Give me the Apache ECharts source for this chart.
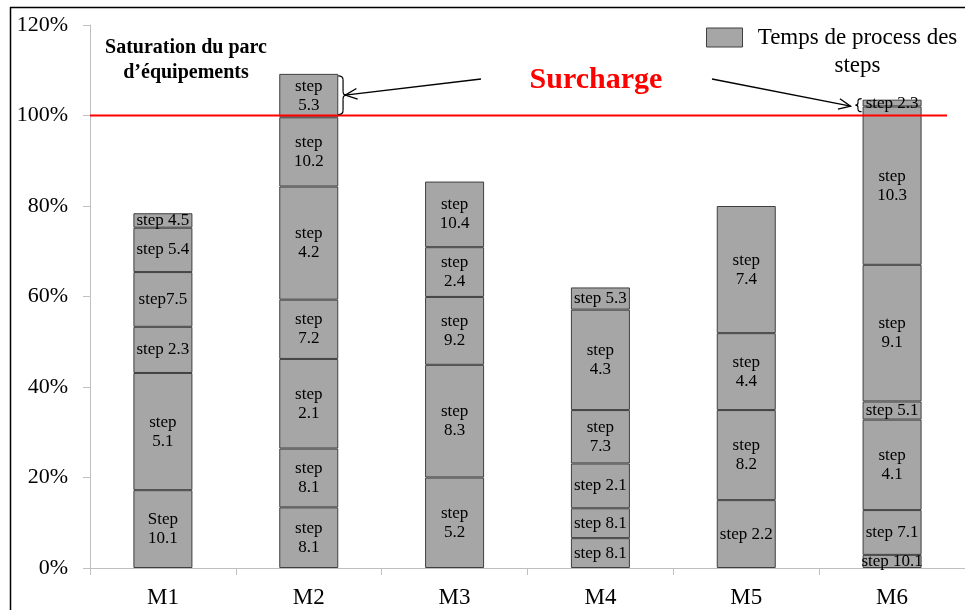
<!DOCTYPE html>
<html>
<head>
<meta charset="utf-8">
<script src="https://cdn.jsdelivr.net/npm/echarts@6/dist/echarts.min.js"></script>
<style>
html,body{margin:0;padding:0;background:#fff;}
#chart{width:965px;height:610px;}
</style>
</head>
<body>
<div id="chart"></div>
<script>
const categories = ['M1', 'M2', 'M3', 'M4', 'M5', 'M6'];
const yTicks = [0, 20, 40, 60, 80, 100, 120];
const legendName = 'Temps de process des steps';

// segment values (% of capacity), bottom to top
const valuesM1 = [17.2, 25.9, 10.2, 12.1, 9.8, 3.2];
const valuesM2 = [13.4, 13.0, 19.8, 13.1, 25.0, 15.3, 9.6];
const valuesM3 = [20.0, 24.9, 15.0, 11.0, 14.5];
const valuesM4 = [6.6, 6.6, 9.9, 11.8, 22.2, 4.9];
const valuesM5 = [15.0, 19.9, 17.0, 28.1];
const valuesM6 = [2.9, 9.9, 20.0, 4.0, 30.2, 35.0, 1.5];

// segment labels, bottom to top
const labelsM1 = ['Step\n10.1', 'step\n5.1', 'step 2.3', 'step7.5', 'step 5.4', 'step 4.5'];
const labelsM2 = ['step\n8.1', 'step\n8.1', 'step\n2.1', 'step\n7.2', 'step\n4.2', 'step\n10.2', 'step\n5.3'];
const labelsM3 = ['step\n5.2', 'step\n8.3', 'step\n9.2', 'step\n2.4', 'step\n10.4'];
const labelsM4 = ['step 8.1', 'step 8.1', 'step 2.1', 'step\n7.3', 'step\n4.3', 'step 5.3'];
const labelsM5 = ['step 2.2', 'step\n8.2', 'step\n4.4', 'step\n7.4'];
const labelsM6 = ['step 10.1', 'step 7.1', 'step\n4.1', 'step 5.1', 'step\n9.1', 'step\n10.3', 'step 2.3'];

const overloadLimit = 100;

const stackValues = [valuesM1, valuesM2, valuesM3, valuesM4, valuesM5, valuesM6];
const stackLabels = [labelsM1, labelsM2, labelsM3, labelsM4, labelsM5, labelsM6];
const layers = Math.max(...stackValues.map(v => v.length));

const FONT = 'Liberation Serif';
const chart = echarts.init(document.getElementById('chart'), null, {renderer: 'canvas'});

const series = [];
for (let k = 0; k < layers; k++) {
  series.push({
    name: legendName,
    type: 'bar',
    stack: 'total',
    barWidth: 59,
    data: categories.map((c, j) => (stackValues[j][k] !== undefined ? stackValues[j][k] : null)),
    itemStyle: {color: '#a6a6a6', borderColor: '#3f3f3f', borderWidth: 1},
    label: {
      show: true,
      position: 'inside',
      color: '#000',
      fontFamily: FONT,
      fontSize: 17,
      lineHeight: 19,
      formatter: p => (stackLabels[p.dataIndex][k] || '')
    },
    emphasis: {disabled: true},
    silent: true
  });
}

chart.setOption({
  animation: false,
  backgroundColor: '#fff',
  grid: {left: 90, right: -5, top: 25, bottom: 42},
  legend: {
    data: [legendName],
    left: 701,
    top: 21,
    icon: 'rect',
    itemWidth: 36,
    itemHeight: 19,
    itemGap: 5,
    selectedMode: false,
    itemStyle: {color: '#a6a6a6', borderColor: '#3f3f3f', borderWidth: 1},
    formatter: () => '{a|Temps de process des}\n{a|steps}',
    textStyle: {
      color: '#000',
      fontFamily: FONT,
      fontSize: 23,
      padding: [28, 0, 0, 0],
      rich: {a: {fontFamily: FONT, fontSize: 23, color: '#000', width: 220, align: 'center', lineHeight: 28}}
    }
  },
  xAxis: {
    type: 'category',
    data: categories,
    axisLine: {show: true, lineStyle: {color: '#bfbfbf', width: 1}},
    axisTick: {show: true, length: 7, lineStyle: {color: '#bfbfbf'}, interval: 0},
    axisLabel: {color: '#000', fontFamily: FONT, fontSize: 23, margin: 18}
  },
  yAxis: {
    type: 'value',
    min: yTicks[0],
    max: yTicks[yTicks.length - 1],
    interval: yTicks[1] - yTicks[0],
    axisLine: {show: true, lineStyle: {color: '#bfbfbf', width: 1}},
    axisTick: {show: true, length: 7, lineStyle: {color: '#bfbfbf'}},
    splitLine: {show: false},
    axisLabel: {color: '#000', fontFamily: FONT, fontSize: 22, margin: 22, formatter: '{value}%'}
  },
  series: series
});

// annotations positioned from the axes
const px = (cat, v) => chart.convertToPixel({xAxisIndex: 0, yAxisIndex: 0}, [cat, v]);
const yLimit = px('M1', overloadLimit)[1];
const m2Top = valuesM2.reduce((a, b) => a + b, 0);
const m6Top = valuesM6.reduce((a, b) => a + b, 0);
const m2 = px('M2', m2Top);
const m6 = px('M6', m6Top);
const half = 59 / 2;

function arrow(x1, y1, x2, y2) {
  const ang = Math.atan2(y2 - y1, x2 - x1);
  const L = 13, a = 0.42;
  const p1 = [x2 - L * Math.cos(ang - a), y2 - L * Math.sin(ang - a)];
  const p2 = [x2 - L * Math.cos(ang + a), y2 - L * Math.sin(ang + a)];
  return [
    {type: 'line', shape: {x1, y1, x2, y2}, style: {stroke: '#000', lineWidth: 1.3}, z: 100},
    {type: 'polyline', shape: {points: [p1, [x2, y2], p2]}, style: {stroke: '#000', lineWidth: 1.3, fill: null}, z: 100}
  ];
}

// curly brace built from quadratic curves and lines; dir = +1 (right "}") or -1 (left "{")
function brace(x, yt, yb, dir, depth, r) {
  const ym = (yt + yb) / 2;
  const xs = x + dir * depth * 0.6, xt = x + dir * depth;
  const st = {stroke: '#000', lineWidth: 1.2, fill: null};
  const q = (x1, y1, cx, cy, x2, y2) => ({type: 'bezierCurve', shape: {x1, y1, x2, y2, cpx1: cx, cpy1: cy}, style: st, z: 100});
  return [
    q(x, yt, xs, yt, xs, yt + r),
    {type: 'line', shape: {x1: xs, y1: yt + r, x2: xs, y2: ym - r}, style: st, z: 100},
    q(xs, ym - r, xs, ym, xt, ym),
    q(xt, ym, xs, ym, xs, ym + r),
    {type: 'line', shape: {x1: xs, y1: ym + r, x2: xs, y2: yb - r}, style: st, z: 100},
    q(xs, yb - r, xs, yb, x, yb)
  ];
}

const bx = m2[0] + half;
const bt = m2[1] + 2, bb = yLimit - 1, bm = (bt + bb) / 2;
const lx = m6[0] - half - 1;
const lt = m6[1] - 1, lb = m6[1] + 12, lm = (lt + lb) / 2;

chart.setOption({
  graphic: [
    {type: 'rect', shape: {x: 10.5, y: 7.5, width: 1200, height: 900}, style: {stroke: '#000', lineWidth: 1.5, fill: null}, z: 1, silent: true},
    {type: 'line', shape: {x1: 90, y1: yLimit, x2: 947, y2: yLimit}, style: {stroke: '#ff0000', lineWidth: 2.2}, z: 90},
    {type: 'text', x: 186, y: 48, style: {text: 'Saturation du parc', font: 'bold 20px "Liberation Serif"', fill: '#000', textAlign: 'center', textVerticalAlign: 'middle'}, z: 100},
    {type: 'text', x: 186, y: 73, style: {text: 'd\u2019\u00e9quipements', font: 'bold 20px "Liberation Serif"', fill: '#000', textAlign: 'center', textVerticalAlign: 'middle'}, z: 100},
    {type: 'text', x: 596, y: 80, style: {text: 'Surcharge', font: 'bold 30px "Liberation Serif"', fill: '#ff0000', textAlign: 'center', textVerticalAlign: 'middle'}, z: 100},
    ...arrow(481, 79, bx + 7, bm),
    ...arrow(712, 79, lx - 11, lm + 1),
    ...brace(bx, bt, bb, 1, 8, 4),
    ...brace(lx, lt, lb, -1, 6, 2.5)
  ]
});
</script>
</body>
</html>
